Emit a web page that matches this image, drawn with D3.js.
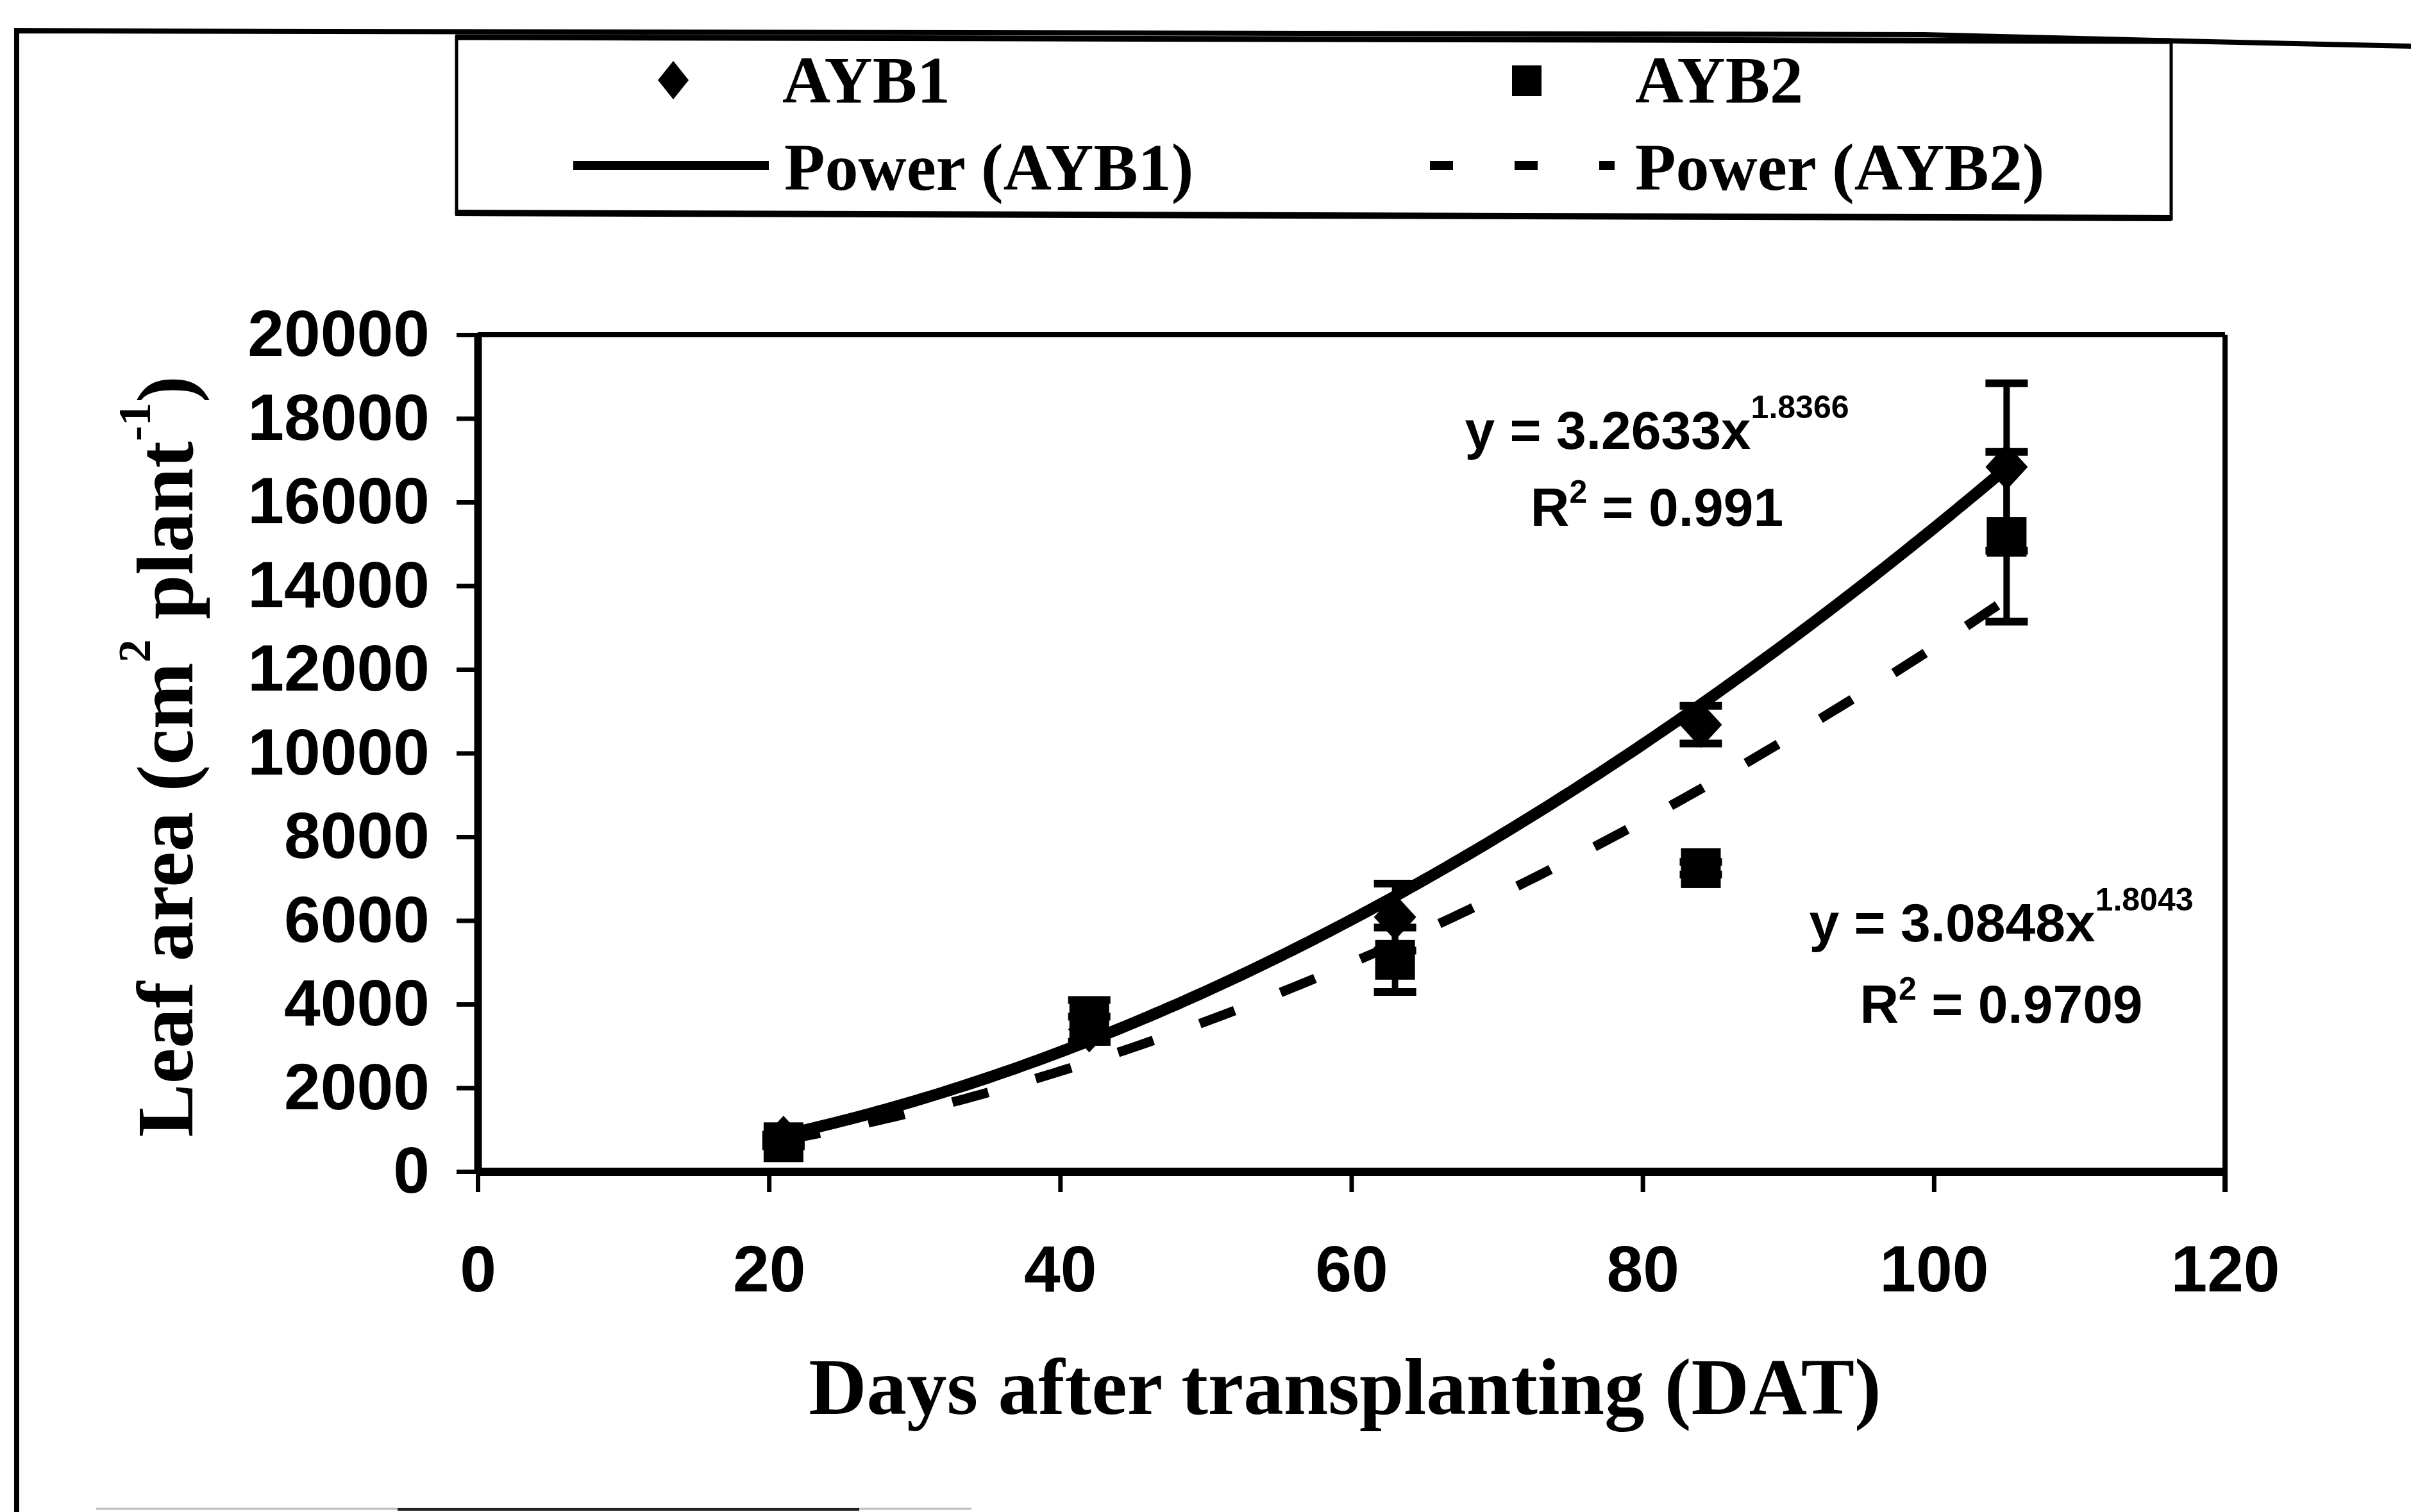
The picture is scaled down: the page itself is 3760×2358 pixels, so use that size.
<!DOCTYPE html>
<html><head><meta charset="utf-8">
<script src="https://cdn.jsdelivr.net/npm/d3@7"></script>
<style>html,body{margin:0;padding:0;background:#fff}svg{display:block}</style>
</head><body>
<svg id="c" width="3760" height="2358"></svg>
<script>
// ---- data ----
const days = [21, 42, 63, 84, 105];
const ayb1 = [780, 3400, 6080, 10680, 16840];
const ayb1Err = [100, 300, 800, 450, 2000];
const ayb2 = [700, 3600, 5060, 7250, 15170];
const ayb2Err = [100, 500, 770, 150, 2030];
// power trendline coefficients printed on the chart (y = a x^b)
const fit1 = [3.2633, 1.8366];
const fit2 = [3.0848, 1.8043];
const eq1 = ["y = 3.2633x", "1.8366", "0.991"];
const eq2 = ["y = 3.0848x", "1.8043", "0.9709"];
const xTicks = [0, 20, 40, 60, 80, 100, 120];
const yTicks = [0, 2000, 4000, 6000, 8000, 10000, 12000, 14000, 16000, 18000, 20000];
const legendLabels = ["AYB1", "AYB2", "Power (AYB1)", "Power (AYB2)"];

const SERIF = "'Liberation Serif','Times New Roman',serif";
const SANS = "'Liberation Sans',Arial,sans-serif";

const svg = d3.select("#c");
svg.append("rect").attr("width", 3760).attr("height", 2358).attr("fill", "#fff");

const x = d3.scaleLinear().domain([0, 120]).range([745, 3470]);
const y = d3.scaleLinear().domain([0, 20000]).range([1827, 522]);

// outer scanned frame
svg.append("path")
  .attr("d", "M26,2358 L26,48 L3000,54 L3400,64 L3760,72")
  .attr("fill", "none").attr("stroke", "#000").attr("stroke-width", 8);
svg.append("line").attr("x1", 150).attr("x2", 1515).attr("y1", 2353).attr("y2", 2353)
  .attr("stroke", "#bbb").attr("stroke-width", 3);
svg.append("line").attr("x1", 620).attr("x2", 1340).attr("y1", 2354).attr("y2", 2354)
  .attr("stroke", "#222").attr("stroke-width", 4);

// plot frame (top + right)
svg.append("line").attr("x1", x(0)).attr("x2", x(120)).attr("y1", y(20000)).attr("y2", y(20000))
  .attr("stroke", "#000").attr("stroke-width", 8);
svg.append("line").attr("x1", x(120)).attr("x2", x(120)).attr("y1", y(20000)).attr("y2", y(0) + 32)
  .attr("stroke", "#000").attr("stroke-width", 8);

// axes
const yAxis = svg.append("g").attr("transform", `translate(${x(0)},0)`)
  .call(d3.axisLeft(y).tickValues(yTicks).tickSize(33).tickSizeOuter(0).tickPadding(42).tickFormat(d3.format("d")));
yAxis.select(".domain").attr("stroke-width", 12);
yAxis.selectAll(".tick line").attr("stroke-width", 7);
yAxis.selectAll("text").attr("font-family", SANS).attr("font-weight", "bold").attr("font-size", 102).attr("fill", "#000");

const xAxis = svg.append("g").attr("transform", `translate(0,${y(0)})`)
  .call(d3.axisBottom(x).tickValues(xTicks).tickSize(32).tickSizeOuter(0).tickPadding(83).tickFormat(d3.format("d")));
xAxis.select(".domain").attr("stroke-width", 13);
xAxis.selectAll(".tick line").attr("stroke-width", 7);
xAxis.selectAll("text").attr("font-family", SANS).attr("font-weight", "bold").attr("font-size", 102).attr("fill", "#000");

// axis titles
svg.append("text").attr("x", x(60) - 10).attr("y", 2205).attr("text-anchor", "middle")
  .attr("font-family", SERIF).attr("font-weight", "bold").attr("font-size", 125)
  .text("Days after transplanting (DAT)");

const yt = svg.append("text").attr("transform", "translate(300,1180) rotate(-90)")
  .attr("text-anchor", "middle").attr("font-family", SERIF).attr("font-weight", "bold").attr("font-size", 125);
yt.append("tspan").text("Leaf area (cm");
yt.append("tspan").attr("font-size", 72).attr("dy", -66).text("2");
yt.append("tspan").attr("dy", 66).text(" plant");
yt.append("tspan").attr("font-size", 72).attr("dy", -66).text("-1");
yt.append("tspan").attr("dy", 66).text(")");

// error bars
function errorBars(vals, errs) {
  const g = svg.append("g").attr("stroke", "#000");
  days.forEach((d, i) => {
    const cx = x(d), top = y(vals[i] + errs[i]), bot = y(vals[i] - errs[i]);
    g.append("line").attr("x1", cx).attr("x2", cx).attr("y1", top).attr("y2", bot).attr("stroke-width", 10);
    g.append("line").attr("x1", cx - 33).attr("x2", cx + 33).attr("y1", top).attr("y2", top).attr("stroke-width", 12);
    g.append("line").attr("x1", cx - 33).attr("x2", cx + 33).attr("y1", bot).attr("y2", bot).attr("stroke-width", 12);
  });
}
errorBars(ayb2, ayb2Err);
errorBars(ayb1, ayb1Err);

// markers
const diamond = (w, h) => `M0,${-h} L${w},0 L0,${h} L${-w},0 Z`;
svg.append("g").selectAll("rect").data(days).join("rect")
  .attr("x", (d) => x(d) - 31).attr("y", (d, i) => y(ayb2[i]) - 31)
  .attr("width", 62).attr("height", 62).attr("fill", "#000");
svg.append("g").selectAll("path").data(days).join("path")
  .attr("transform", (d, i) => `translate(${x(d)},${y(ayb1[i])})`)
  .attr("d", diamond(33, 36)).attr("fill", "#000");

// trendlines
function powerLine(c) {
  const pts = d3.range(days[0], days[days.length - 1] + 0.001, 0.5).map((t) => [t, c[0] * Math.pow(t, c[1])]);
  return d3.line().x((p) => x(p[0])).y((p) => y(p[1]))(pts);
}
svg.append("path").attr("d", powerLine(fit2)).attr("fill", "none").attr("stroke", "#000")
  .attr("stroke-width", 15).attr("stroke-dasharray", "58,77");
svg.append("path").attr("d", powerLine(fit1)).attr("fill", "none").attr("stroke", "#000")
  .attr("stroke-width", 18);

// equation labels
function equation(e, cx, y1, y2) {
  const t1 = svg.append("text").attr("x", cx).attr("y", y1).attr("text-anchor", "middle")
    .attr("font-family", SANS).attr("font-weight", "bold").attr("font-size", 84);
  t1.append("tspan").text(e[0]);
  t1.append("tspan").attr("font-size", 50).attr("dy", -48).text(e[1]);
  const t2 = svg.append("text").attr("x", cx).attr("y", y2).attr("text-anchor", "middle")
    .attr("font-family", SANS).attr("font-weight", "bold").attr("font-size", 84);
  t2.append("tspan").text("R");
  t2.append("tspan").attr("font-size", 50).attr("dy", -36).text("2");
  t2.append("tspan").attr("dy", 36).text(" = " + e[2]);
}
equation(eq1, 2584, 700, 820);
equation(eq2, 3121, 1468, 1595);

// legend
const lg = svg.append("g");
lg.append("line").attr("x1", 710).attr("x2", 3386).attr("y1", 58).attr("y2", 64).attr("stroke", "#000").attr("stroke-width", 9);
lg.append("line").attr("x1", 710).attr("x2", 3386).attr("y1", 332).attr("y2", 340).attr("stroke", "#000").attr("stroke-width", 10);
lg.append("line").attr("x1", 712).attr("x2", 712).attr("y1", 56).attr("y2", 335).attr("stroke", "#000").attr("stroke-width", 5);
lg.append("line").attr("x1", 3386).attr("x2", 3386).attr("y1", 62).attr("y2", 344).attr("stroke", "#000").attr("stroke-width", 5);

lg.append("path").attr("transform", "translate(1050,125)").attr("d", diamond(24, 30)).attr("fill", "#000");
lg.append("rect").attr("x", 2358).attr("y", 102).attr("width", 46).attr("height", 48).attr("fill", "#000");
lg.append("line").attr("x1", 894).attr("x2", 1199).attr("y1", 258).attr("y2", 258).attr("stroke", "#000").attr("stroke-width", 14);
lg.append("line").attr("x1", 2230).attr("x2", 2518).attr("y1", 258).attr("y2", 258).attr("stroke", "#000")
  .attr("stroke-width", 14).attr("stroke-dasharray", "36,96");

const legPos = [[1220, 160], [2550, 160], [1223, 296], [2550, 296]];
lg.selectAll("text.leg").data(legendLabels).join("text").attr("class", "leg")
  .attr("x", (d, i) => legPos[i][0]).attr("y", (d, i) => legPos[i][1])
  .attr("font-family", SERIF).attr("font-weight", "bold").attr("font-size", 104)
  .text((d) => d);
</script>
</body></html>
